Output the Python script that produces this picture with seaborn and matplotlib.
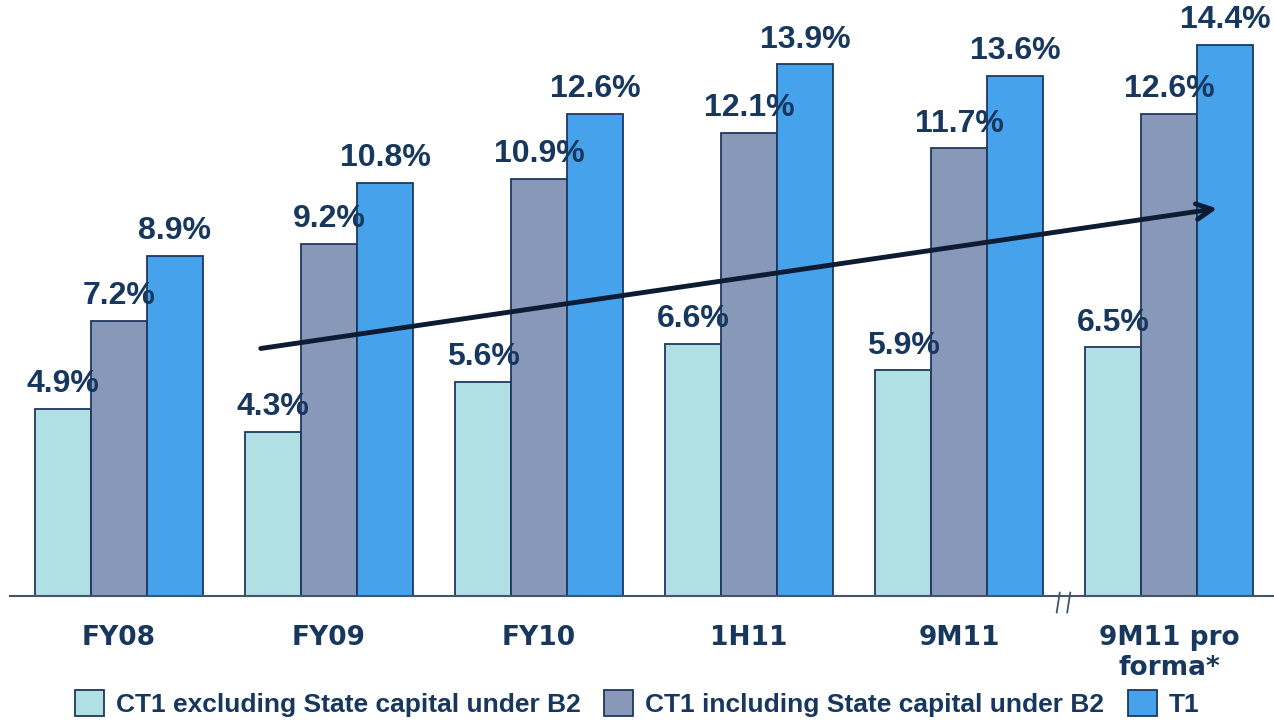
import pandas as pd
import numpy as np
import matplotlib.pyplot as plt
import seaborn as sns
from matplotlib.patches import Patch

# --- Data ---
periods = ['FY08', 'FY09', 'FY10', '1H11', '9M11', '9M11 pro\nforma*']
series_names = ['CT1 excluding State capital under B2',
                'CT1 including State capital under B2',
                'T1']
ct1_excl = [4.9, 4.3, 5.6, 6.6, 5.9, 6.5]
ct1_incl = [7.2, 9.2, 10.9, 12.1, 11.7, 12.6]
t1 = [8.9, 10.8, 12.6, 13.9, 13.6, 14.4]

colors = ['#B0DFE4', '#8898B9', '#46A3EB']
edge_col = '#1F3860'
text_col = '#17375E'

df = pd.DataFrame({
    'period': periods * 3,
    'series': np.repeat(series_names, len(periods)),
    'value': ct1_excl + ct1_incl + t1,
})

# --- Figure ---
sns.set_theme(style='white')
plt.rcParams['font.family'] = ['Liberation Sans', 'DejaVu Sans']

fig = plt.figure(figsize=(12.74, 7.24), dpi=100)
ax = fig.add_axes([10 / 1274, 128 / 724, 1264 / 1274, 596 / 724])

sns.barplot(data=df, x='period', y='value', hue='series', palette=colors,
            edgecolor=edge_col, linewidth=1.3, saturation=1, ax=ax, errorbar=None)
ax.legend_.remove()

for cont in ax.containers:
    ax.bar_label(cont, fmt='%.1f%%', padding=7, fontsize=23, fontweight='bold',
                 color=text_col)

ax.set_xlim(-0.519, 5.5)
ax.set_ylim(0, 15.58)
ax.set_xlabel('')
ax.set_ylabel('')
ax.set_yticks([])
for s in ['left', 'right', 'top']:
    ax.spines[s].set_visible(False)
ax.spines['bottom'].set_color('#44546A')
ax.spines['bottom'].set_linewidth(1.5)
ax.tick_params(axis='x', length=0, pad=21)
for lab in ax.get_xticklabels():
    lab.set_fontfamily('DejaVu Sans')
    lab.set_fontweight('bold')
    lab.set_fontsize(19)
    lab.set_color(text_col)

# trend arrow
ax.annotate('', xy=(5.243, 10.14), xytext=(0.662, 6.46),
            arrowprops=dict(arrowstyle='->', lw=3.5, color='#0D1B33',
                            mutation_scale=28))

# axis break marks
trans = ax.get_xaxis_transform()
for dx in (-0.025, 0.025):
    ax.plot([4.49 + dx, 4.505 + dx], [-0.028, 0.006], transform=trans,
            color='#44546A', lw=1.3, clip_on=False)

# legend
handles = [Patch(facecolor=c, edgecolor=edge_col, linewidth=1.3) for c in colors]
fig.legend(handles, series_names, loc='lower center', bbox_to_anchor=(0.5, -0.005),
           ncol=3, frameon=False, handlelength=1.1, handleheight=1.1,
           handletextpad=0.45, columnspacing=0.9, borderaxespad=0,
           prop={'weight': 'bold', 'size': 19})
for t in fig.legends[0].get_texts():
    t.set_color(text_col)

fig.savefig('out.png', dpi=100)
